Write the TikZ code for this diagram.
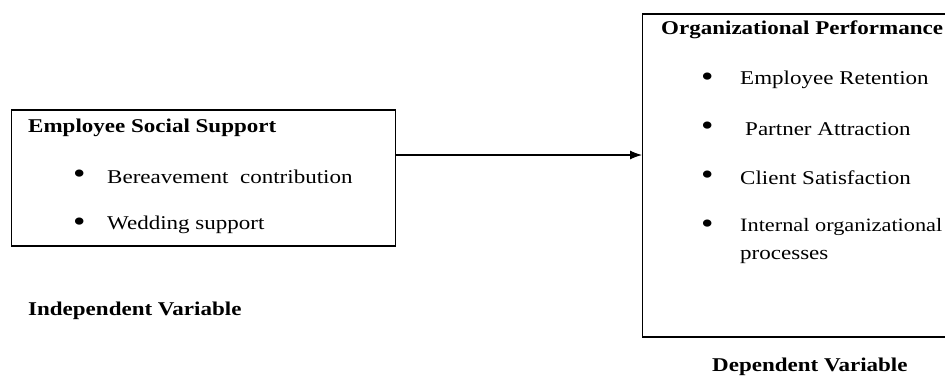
\documentclass[tikz,border=0pt]{standalone}
\usepackage{fontspec}
\setmainfont[FakeStretch=1.18]{Liberation Serif}
\usetikzlibrary{arrows.meta}
\begin{document}
\begin{tikzpicture}[x=1pt, y=-1pt,
  every node/.style={font=\fontsize{19.5}{22}\selectfont, inner sep=0pt, anchor=west},
  heading/.style={font=\fontsize{19.5}{22}\selectfont\bfseries},
  dot/.style={font=\fontsize{30}{30}\selectfont},
  varbox/.style={draw, line width=1.1pt}]
  \useasboundingbox (0,0) rectangle (945,376);
  \clip (0,0) rectangle (945,376);
  % independent side
  \node[varbox, minimum width=384pt, minimum height=136pt] (essbox) at (11,178) {};
  \node[heading] (esshead) at (28,128) {Employee Social Support};
  \node[dot] (bull1) at (73,177) {•};  \node (bereave) at (107,177) {Bereavement\ \ contribution};
  \node[dot] (bull2) at (73,225) {•};  \node (wedding) at (107,225) {Wedding support};
  \node[heading] (indep) at (28,311) {Independent Variable};
  % dependent side
  \node[varbox, minimum width=330pt, minimum height=323pt] (opbox) at (642,175.5) {};
  \node[heading] (ophead) at (661,30) {Organizational Performance};
  \node[dot] (bull3) at (701,80) {•};  \node (retention) at (740,80) {Employee Retention};
  \node[dot] (bull4) at (701,129) {•}; \node (partner) at (745,129) {Partner Attraction};
  \node[dot] (bull5) at (701,178) {•}; \node (client) at (740,178) {Client Satisfaction};
  \node[dot] (bull6) at (701,227) {•};
  \node[font=\fontsize{18.9}{22}\selectfont] (internal) at (740,227) {Internal organizational};
  \node (process) at (740,257) {processes};
  \node[heading] (dep) at (712,367) {Dependent Variable};
  % link
  \coordinate (linkmid) at (520,155);
  \draw[line width=1.8pt] (essbox.east |- linkmid) -- (linkmid);
  \draw[line width=1.1pt, -{Latex[length=12pt, width=9pt]}] (linkmid) -- (opbox.west |- linkmid);
\end{tikzpicture}
\end{document}
